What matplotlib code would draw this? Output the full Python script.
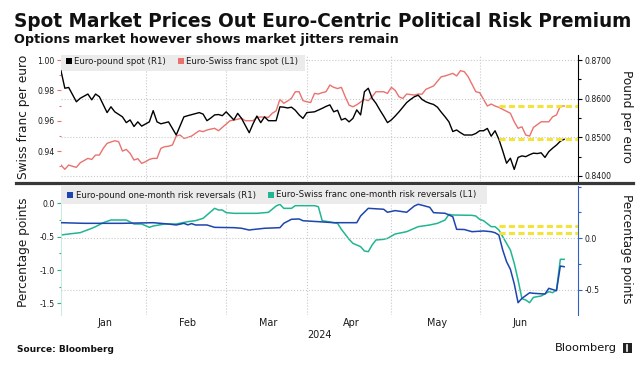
import numpy as np
import matplotlib
matplotlib.use("Agg")
import matplotlib.pyplot as plt
from matplotlib import font_manager as fm
from matplotlib.patches import Rectangle
from matplotlib.lines import Line2D
from matplotlib.ticker import FormatStrFormatter

START = "2024-01-02"

months = ["Jan", "Feb", "Mar", "Apr", "May", "Jun"]
month_starts = ["01-02", "02-01", "03-01", "04-01", "05-01", "06-03", "07-01"]

# Euro-pound spot (right axis, top)
gbp_spot_dates = [
    "01-02", "01-03", "01-04", "01-08", "01-09", "01-11", "01-12", "01-15", "01-16", "01-18",
    "01-19", "01-22", "01-24", "01-25", "01-26", "01-29", "01-30", "01-31", "02-02", "02-05",
    "02-06", "02-07", "02-09", "02-12", "02-13", "02-15", "02-16", "02-21", "02-22", "02-23",
    "02-26", "02-27", "02-28", "02-29", "03-01", "03-05", "03-06", "03-07", "03-11", "03-12",
    "03-13", "03-14", "03-15", "03-18", "03-20", "03-21", "03-22", "03-25", "03-26", "03-27",
    "03-28", "03-29", "04-01", "04-02", "04-03", "04-05", "04-08", "04-09", "04-10", "04-11",
    "04-12", "04-15", "04-16", "04-17", "04-18", "04-19", "04-22", "04-23", "04-24", "04-25",
    "04-26", "04-29", "04-30", "05-01", "05-02", "05-03", "05-06", "05-07", "05-08", "05-09",
    "05-10", "05-13", "05-14", "05-15", "05-16", "05-17", "05-20", "05-21", "05-22", "05-23",
    "05-24", "05-27", "05-28", "05-29", "05-30", "05-31", "06-03", "06-04", "06-05", "06-06",
    "06-07", "06-10", "06-11", "06-12", "06-13", "06-14", "06-17", "06-18", "06-19", "06-20",
    "06-21", "06-24", "06-25", "06-26", "06-27", "06-28", "07-01", "07-02", "07-03",
]
gbp_spot = [
    .8672, .8627, .8629, .8592, .8601, .8612, .8597, .8612, .8605, .8564,
    .8579, .8566, .8553, .8538, .8545, .8528, .8540, .8529, .8540, .8569,
    .8540, .8535, .8540, .8523, .8506, .8553, .8556, .8564, .8560, .8543,
    .8550, .8558, .8559, .8556, .8566, .8545, .8562, .8549, .8512, .8535,
    .8555, .8538, .8553, .8543, .8543, .8579, .8578, .8576, .8578, .8570,
    .8558, .8549, .8564, .8565, .8566, .8575, .8580, .8584, .8566, .8570,
    .8545, .8549, .8540, .8549, .8571, .8558, .8618, .8627, .8601, .8588,
    .8571, .8555, .8538, .8545, .8555, .8566, .8578, .8590, .8598, .8605,
    .8609, .8598, .8592, .8588, .8585, .8578, .8565, .8553, .8540, .8515,
    .8519, .8512, .8506, .8506, .8506, .8510, .8517, .8517, .8523, .8503,
    .8517, .8495, .8465, .8433, .8446, .8417, .8448, .8452, .8450, .8455,
    .8459, .8458, .8460, .8448, .8463, .8472, .8480, .8490, .8495,
]

# Euro-Swiss franc spot (left axis, top)
chf_spot_dates = [
    "01-02", "01-03", "01-04", "01-05", "01-08", "01-09", "01-11", "01-12", "01-15", "01-16",
    "01-17", "01-18", "01-19", "01-22", "01-23", "01-24", "01-25", "01-26", "01-29", "01-30",
    "01-31", "02-01", "02-02", "02-05", "02-06", "02-07", "02-08", "02-09", "02-12", "02-13",
    "02-14", "02-15", "02-16", "02-19", "02-20", "02-21", "02-22", "02-23", "02-26", "02-27",
    "02-28", "02-29", "03-01", "03-04", "03-05", "03-07", "03-08", "03-12", "03-13", "03-14",
    "03-18", "03-19", "03-20", "03-21", "03-22", "03-25", "03-26", "03-27", "03-28", "03-29",
    "04-01", "04-02", "04-03", "04-04", "04-05", "04-08", "04-09", "04-10", "04-11", "04-12",
    "04-15", "04-16", "04-17", "04-18", "04-22", "04-23", "04-24", "04-25", "04-29", "04-30",
    "05-01", "05-02", "05-03", "05-06", "05-07", "05-09", "05-10", "05-13", "05-14", "05-16",
    "05-20", "05-21", "05-23", "05-24", "05-27", "05-28", "05-29", "05-31", "06-03", "06-04",
    "06-05", "06-06", "06-07", "06-10", "06-11", "06-13", "06-14", "06-17", "06-18", "06-19",
    "06-20", "06-21", "06-25", "06-27", "06-28", "07-01", "07-02", "07-03",
]
chf_spot = [
    .9308, .9280, .9308, .9300, .9293, .9323, .9352, .9345, .9374, .9374,
    .9418, .9451, .9460, .9468, .9462, .9400, .9411, .9385, .9341, .9350,
    .9319, .9330, .9345, .9352, .9352, .9418, .9429, .9432, .9440, .9499,
    .9506, .9484, .9490, .9499, .9517, .9534, .9528, .9539, .9545, .9550,
    .9534, .9556, .9578, .9600, .9604, .9616, .9600, .9600, .9622, .9625,
    .9622, .9649, .9665, .9741, .9715, .9730, .9748, .9791, .9791, .9732,
    .9725, .9720, .9780, .9776, .9785, .9791, .9835, .9820, .9812, .9820,
    .9758, .9703, .9692, .9705, .9741, .9732, .9758, .9791, .9791, .9780,
    .9820, .9800, .9758, .9747, .9776, .9769, .9776, .9775, .9807, .9829,
    .9890, .9895, .9912, .9895, .9930, .9923, .9890, .9791, .9785, .9741,
    .9697, .9710, .9697, .9688, .9675, .9649, .9593, .9550, .9560, .9506,
    .9499, .9556, .9593, .9593, .9626, .9638, .9697, .9697,
]

# Euro-pound one-month risk reversals (right axis, bottom)
gbp_rr_dates = [
    "01-02", "01-10", "01-24", "02-05", "02-09", "02-13", "02-15", "02-16", "02-19", "02-20",
    "02-23", "02-27", "03-05", "03-07", "03-11", "03-12", "03-15", "03-21", "03-22", "03-26",
    "03-28", "03-29", "04-04", "04-10", "04-18", "04-19", "04-23", "04-29", "04-30", "05-02",
    "05-07", "05-09", "05-10", "05-13", "05-15", "05-16", "05-21", "05-23", "05-24", "05-28",
    "05-30", "06-04", "06-06", "06-07", "06-10", "06-11", "06-12", "06-13", "06-14", "06-17",
    "06-18", "06-20", "06-21", "06-26", "06-27", "07-01", "07-02", "07-03",
]
gbp_rr = [
    .151, .145, .145, .151, .138, .129, .145, .130, .142, .129,
    .129, .106, .103, .097, .080, .085, .097, .103, .145, .184,
    .187, .170, .161, .151, .151, .216, .290, .281, .252, .268,
    .252, .313, .329, .320, .300, .248, .242, .209, .087, .085,
    .064, .071, .064, .054, .032, -.113, -.226, -.300, -.440, -.623,
    -.581, -.527, -.532, -.539, -.484, -.507, -.268, -.275,
]

# Euro-Swiss franc one-month risk reversals (left axis, bottom)
chf_rr_dates = [
    "01-02", "01-04", "01-09", "01-12", "01-15", "01-17", "01-19", "01-25", "01-29", "01-31",
    "02-02", "02-05", "02-08", "02-13", "02-16", "02-20", "02-22", "02-23", "02-27", "02-28",
    "02-29", "03-01", "03-05", "03-13", "03-18", "03-20", "03-21", "03-22", "03-26", "03-27",
    "04-03", "04-04", "04-05", "04-11", "04-12", "04-16", "04-17", "04-19", "04-22", "04-23",
    "04-24", "04-25", "04-29", "04-30", "05-02", "05-07", "05-10", "05-15", "05-17", "05-21",
    "05-22", "05-23", "05-30", "05-31", "06-03", "06-04", "06-06", "06-07", "06-10", "06-12",
    "06-13", "06-14", "06-17", "06-18", "06-19", "06-20", "06-21", "06-25", "06-27", "06-28",
    "07-01", "07-02", "07-03",
]
chf_rr = [
    -.475, -.46, -.44, -.375, -.35, -.29, -.25, -.25, -.31, -.31,
    -.36, -.34, -.31, -.31, -.275, -.26, -.225, -.175, -.075, -.10,
    -.10, -.14, -.15, -.15, -.135, -.04, -.015, -.075, -.075, -.035,
    -.035, -.05, -.26, -.30, -.39, -.54, -.60, -.65, -.715, -.725,
    -.625, -.55, -.54, -.525, -.46, -.425, -.35, -.325, -.30, -.25,
    -.165, -.175, -.18, -.19, -.24, -.26, -.35, -.35, -.40, -.60,
    -.70, -.90, -1.15, -1.43, -1.45, -1.49, -1.41, -1.39, -1.325, -1.34,
    -1.30, -.84, -.84,
]

# pre-selloff levels marked with yellow dashes
mark_from = "06-10"
gbp_spot_mark = 0.8495
chf_spot_mark = 0.9697
gbp_rr_mark = 0.054
chf_rr_mark = -0.345

BLACK = "#000000"
RED = "#ea726e"
BLUE = "#1d45b0"
TEAL = "#22b592"
YELLOW = "#f3e43c"
GRID = "#c9c9c9"
TXT = "#1a1a1a"
BAND = "#ebebeb"


def bdays(dates):
    d = np.array(["2024-" + s for s in dates], dtype="datetime64[D]")
    return np.busday_count(np.datetime64(START), d)


# narrow font for the small chart text if there is one
try:
    fm.findfont(fm.FontProperties(family="Liberation Sans Narrow"), fallback_to_default=False)
    plt.rcParams["font.family"] = "Liberation Sans Narrow"
except ValueError:
    plt.rcParams["font.family"] = "DejaVu Sans"
    plt.rcParams["font.stretch"] = "condensed"
plt.rcParams["axes.unicode_minus"] = False

W, H = 643, 365
fig = plt.figure(figsize=(W / 100, H / 100), dpi=100)
renderer = fig.canvas.get_renderer()


def box(x0, y0, x1, y1):
    return [x0 / W, 1 - y1 / H, (x1 - x0) / W, (y1 - y0) / H]


def size_for(s, width_px, **kw):
    t = fig.text(0, 0, s, fontsize=10, **kw)
    w = t.get_window_extent(renderer=renderer).width
    t.remove()
    return 10 * width_px / w


tick_fs = size_for("0.8700", 27.5)
month_fs = size_for("Jan", 15)
legend_fs = size_for("Euro-pound spot (R1)", 91)
label_fs = size_for("Swiss franc per euro", 124)

ax1 = fig.add_axes(box(61, 55, 578, 181))
ax1r = ax1.twinx()
ax2 = fig.add_axes(box(61, 186, 578, 315))
ax2r = ax2.twinx()

ax1.plot(bdays(chf_spot_dates), chf_spot, color=RED, lw=1.0)
ax1r.plot(bdays(gbp_spot_dates), gbp_spot, color=BLACK, lw=1.0)
ax2.plot(bdays(chf_rr_dates), chf_rr, color=TEAL, lw=1.1)
ax2r.plot(bdays(gbp_rr_dates), gbp_rr, color=BLUE, lw=1.1)

xmax = 134.6
ax1.set_xlim(0, xmax)
ax2.set_xlim(0, xmax)
ax1.set_ylim(0.9203, 1.0033)
ax1r.set_ylim(0.8387, 0.8713)
ax2.set_ylim(-1.675, 0.26)
ax2r.set_ylim(-0.742, 0.506)

# yellow dashed reference levels
x0 = bdays([mark_from])[0]
dash = dict(colors=YELLOW, lw=2.2, linestyles=(0, (2.0, 1.1)), zorder=3)
ax1.hlines(chf_spot_mark, x0, xmax, **dash)
ax1r.hlines(gbp_spot_mark, x0, xmax, **dash)
ax2.hlines(chf_rr_mark, x0, xmax, **dash)
ax2r.hlines(gbp_rr_mark, x0, xmax, **dash)

for a in (ax1, ax1r, ax2, ax2r):
    for side in ("top", "bottom", "left", "right"):
        a.spines[side].set_visible(False)
ax1r.spines["right"].set_visible(True)
ax1r.spines["right"].set_color(BLACK)
ax1r.spines["right"].set_linewidth(0.8)
ax2r.spines["right"].set_visible(True)
ax2r.spines["right"].set_color("#2f62c4")
ax2r.spines["right"].set_linewidth(0.8)
ax2.spines["left"].set_visible(True)
ax2.spines["left"].set_color("#bfe9dc")
ax2.spines["left"].set_linewidth(0.6)

# y ticks
ax1.set_yticks([0.94, 0.96, 0.98, 1.00])
ax1.set_yticks([0.93, 0.95, 0.97, 0.99], minor=True)
ax1.yaxis.set_major_formatter(FormatStrFormatter("%.2f"))
ax1r.set_yticks([0.84, 0.85, 0.86, 0.87])
ax1r.set_yticks([0.845, 0.855, 0.865], minor=True)
ax1r.yaxis.set_major_formatter(FormatStrFormatter("%.4f"))
ax2.set_yticks([-1.5, -1.0, -0.5, 0.0])
ax2.set_yticks([-1.25, -0.75, -0.25], minor=True)
ax2.yaxis.set_major_formatter(FormatStrFormatter("%.1f"))
ax2r.set_yticks([-0.5, 0.0])
ax2r.set_yticks([-0.25, 0.25, 0.5], minor=True)
ax2r.yaxis.set_major_formatter(FormatStrFormatter("%.1f"))

for a, c in ((ax1, RED), (ax1r, BLACK), (ax2, TEAL), (ax2r, "#2f62c4")):
    a.tick_params(axis="y", which="major", color=c, labelcolor=TXT, length=3,
                  width=0.8, labelsize=tick_fs, pad=1.5)
    a.tick_params(axis="y", which="minor", color=c, length=1.8, width=0.8)

# month gridlines and labels
ms = bdays(month_starts)
centers = (ms[:-1] + ms[1:]) / 2 + 0.5
for a in (ax1, ax2):
    a.set_xticks(ms[1:-1])
    a.grid(axis="x", color=GRID, ls=":", lw=0.8)
    a.tick_params(axis="x", which="both", length=0, labelbottom=False)
for a in (ax1r, ax2r):
    a.grid(axis="y", color=GRID, ls=":", lw=0.8)
ax2.set_xticks(centers, minor=True)
ax2.set_xticklabels(months, minor=True)
ax2.tick_params(axis="x", which="minor", labelbottom=True, labelsize=month_fs,
                labelcolor=TXT, pad=2)
fig.text(319.5 / W, 1 - 335 / H, "2024", ha="center", va="center",
         fontsize=month_fs, color=TXT)

# axis titles
fig.text(24 / W, 1 - 117 / H, "Swiss franc per euro", rotation=90, ha="center",
         va="center", fontsize=label_fs, color=TXT)
fig.text(627 / W, 1 - 116 / H, "Pound per euro", rotation=270, ha="center",
         va="center", fontsize=label_fs, color=TXT)
fig.text(24 / W, 1 - 252 / H, "Percentage points", rotation=90, ha="center",
         va="center", fontsize=label_fs, color=TXT)
fig.text(627 / W, 1 - 249 / H, "Percentage points", rotation=270, ha="center",
         va="center", fontsize=label_fs, color=TXT)

# legend bands
ax1r.add_patch(Rectangle((61 / W, 1 - 71 / H), (305 - 61) / W, (71 - 55) / H,
                         transform=fig.transFigure, color=BAND, zorder=1.8, lw=0))
ax2r.add_patch(Rectangle((61 / W, 1 - 204 / H), (487 - 61) / W, (204 - 186) / H,
                         transform=fig.transFigure, color=BAND, zorder=1.8, lw=0))
legend_items = [
    (66, 61, BLACK, "Euro-pound spot (R1)"),
    (178, 61, RED, "Euro-Swiss franc spot (L1)"),
    (67, 195, BLUE, "Euro-pound one-month risk reversals (R1)"),
    (268, 195, TEAL, "Euro-Swiss franc one-month risk reversals (L1)"),
]
for lx, ly, c, s in legend_items:
    fig.add_artist(Rectangle((lx / W, 1 - (ly + 3) / H), 6 / W, 6 / H,
                             transform=fig.transFigure, color=c, lw=0))
    fig.text((lx + 8.5) / W, 1 - ly / H, s, ha="left", va="center",
             fontsize=legend_fs, color=TXT)

# separator between panels
fig.add_artist(Line2D([16 / W, 633 / W], [1 - 183.3 / H] * 2, color="#383838", lw=2.3))

# titles and footer
bold = dict(fontweight="bold", family="DejaVu Sans", fontstretch="normal")
title = fig.text(14 / W, 1 - 27 / H, "Spot Market Prices Out Euro-Centric Political Risk Premium",
                 ha="left", va="baseline", color="#111111", **bold)
title.set_fontsize(size_for(title.get_text(), 619, **bold))
sub = fig.text(14 / W, 1 - 43 / H, "Options market however shows market jitters remain",
               ha="left", va="baseline", color="#111111", **bold)
sub.set_fontsize(size_for(sub.get_text(), 384, **bold))
src = fig.text(17 / W, 1 - 349 / H, "Source: Bloomberg", ha="left", va="center",
               color="#111111", **bold)
src.set_fontsize(size_for(src.get_text(), 97, **bold))
logo = fig.text(617 / W, 1 - 348 / H, "Bloomberg", ha="right", va="center",
                family="DejaVu Sans", fontstretch="normal", color="#111111")
logo.set_fontsize(size_for(logo.get_text(), 62, family="DejaVu Sans", fontstretch="normal"))
fig.add_artist(Rectangle((622.5 / W, 1 - 353 / H), 9.5 / W, 10 / H,
                         transform=fig.transFigure, color="#222222", lw=0))
fig.add_artist(Line2D([627.2 / W] * 2, [1 - 351 / H, 1 - 345 / H], color="white", lw=1.2))

fig.savefig("out.png", dpi=100)
